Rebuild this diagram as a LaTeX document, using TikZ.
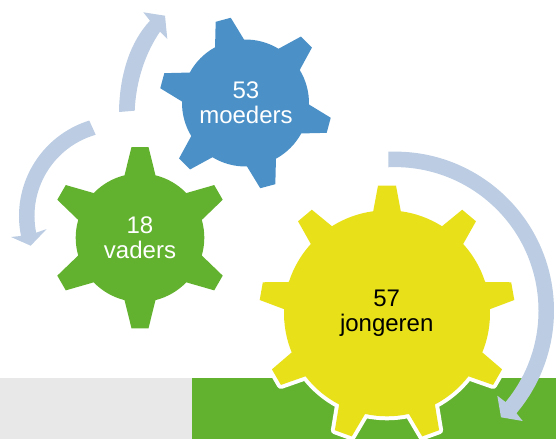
\documentclass[tikz,border=0pt]{standalone}
\usepackage{fontspec}
\setmainfont{Liberation Sans}
\definecolor{arrowblue}{HTML}{BCCDE3}
\definecolor{gearblue}{HTML}{4B91C7}
\definecolor{geargreen}{HTML}{63B22F}
\definecolor{gearyellow}{HTML}{E8E11A}
\definecolor{bandgrey}{HTML}{E8E8E8}
% #1 cx, #2 cy, #3 body radius, #4 tip radius, #5 tip half width, #6 base half width, #7 teeth, #8 first angle, #9 style
\newcommand{\gearpath}[9]{%
  \pgfmathsetmacro{\dt}{asin(#5/#4)}%
  \pgfmathsetmacro{\db}{asin(#6/#3)}%
  \pgfmathsetmacro{\st}{360/#7}%
  \begin{scope}[shift={(#1,#2)}]
    \path[#9] ({#8-\db}:#3)
      \foreach \k [evaluate=\k as \a using {#8+(\k-1)*\st}] in {1,...,#7} {
        -- ({\a-\dt}:#4) -- ({\a+\dt}:#4) -- ({\a+\db}:#3)
        arc[start angle={\a+\db}, end angle={\a+\st-\db}, radius=#3 pt]
      } -- cycle;
  \end{scope}}
\tikzset{
  gearlabel/.style={align=center, font=\fontsize{24}{24.6}\selectfont, inner sep=0pt},
  arrowshape/.style={fill=arrowblue, draw=none}
}
\begin{document}
\begin{tikzpicture}[x=1pt,y=1pt]
\useasboundingbox (0,-439) rectangle (556,0);
\clip (0,-439) rectangle (556,0);
% bands
\fill[bandgrey] (0,-378) rectangle (192,-439);
\fill[geargreen] (192,-378) rectangle (556,-439);
% gears
\gearpath{140}{-237.7}{64.3}{91}{8.5}{15.5}{6}{30}{fill=geargreen}
\gearpath{245.5}{-103}{63.5}{86.5}{7.8}{15}{6}{45}{fill=gearblue}
\gearpath{387}{-313.3}{103}{128}{9}{13.8}{9}{10}{draw=white, line width=8pt, line join=round}
\gearpath{387}{-313.3}{103}{128}{9}{13.8}{9}{10}{fill=gearyellow}
% arrows
\fill[arrowshape] (119,-112) .. controls (119.5,-75) and (130,-42) .. (150,-20.7)
  -- (143.3,-12.3) -- (165,-15.7) -- (167.3,-39) -- (160,-31.7)
  .. controls (146,-52) and (136,-80) .. (134.7,-110.7) -- cycle;
\begin{scope}[shift={(119,-216)}]
\fill[arrowshape] (107.3:100) arc[start angle=107.3, end angle=191.5, radius=100pt]
  -- (-108,-21) -- (-88.3,-29.7) -- (-72.3,-13) -- (191.4:84.5)
  arc[start angle=191.4, end angle=106, radius=84.5pt] -- cycle;
\end{scope}
\begin{scope}[shift={(395,-310.6)}]
\fill[arrowshape] (92.4:159) arc[start angle=92.4, end angle=-40.2, radius=159pt]
  -- (127.7,-110.4) -- (106,-106.7) -- (102.3,-85.1) -- (-39.6:143.5)
  arc[start angle=-39.6, end angle=92.6, radius=143.5pt] -- cycle;
\end{scope}
% labels
\node[gearlabel, text=white] (moeders) at (246,-103) {53\\moeders};
\node[gearlabel, text=white] (vaders) at (140,-237.5) {18\\vaders};
\node[gearlabel, text=black] (jongeren) at (386.7,-313.5) {57\\jongeren};
\end{tikzpicture}
\end{document}
